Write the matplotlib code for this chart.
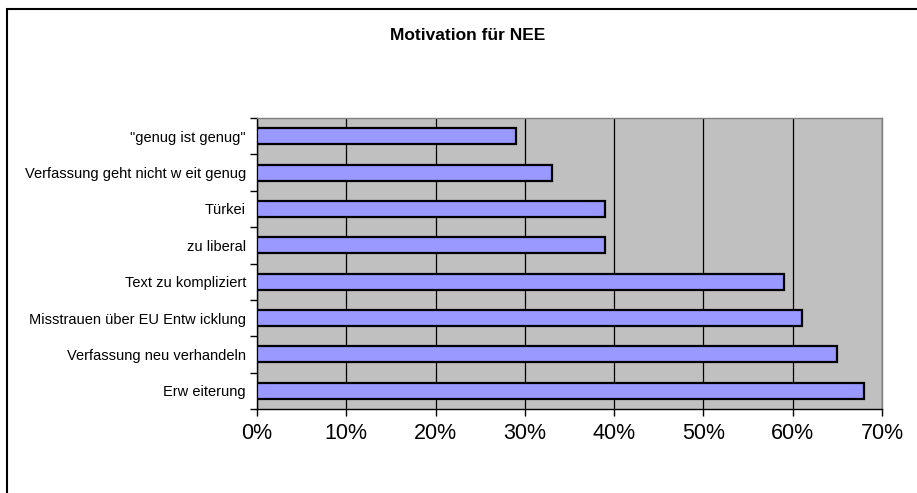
import matplotlib
matplotlib.use("Agg")
import matplotlib.pyplot as plt
from matplotlib.patches import Rectangle
from matplotlib.ticker import MultipleLocator, PercentFormatter, FixedLocator, NullFormatter
import numpy as np

categories = ['"genug ist genug"', 'Verfassung geht nicht w eit genug', 'Türkei', 'zu liberal',
              'Text zu kompliziert', 'Misstrauen über EU Entw icklung',
              'Verfassung neu verhandeln', 'Erw eiterung']
values = [29, 33, 39, 39, 59, 61, 65, 68]
title = 'Motivation für NEE'

plt.rcParams['font.family'] = ['Liberation Sans', 'DejaVu Sans']

fig = plt.figure(figsize=(9.17, 4.93), dpi=100)
W, H = 917, 493
ax = fig.add_axes([257 / W, (H - 409) / H, (882 - 257) / W, (409 - 118) / H])
ax.set_facecolor('#C0C0C0')

y = np.arange(len(categories))
ax.barh(y, values, height=0.44, color='#9999FF', edgecolor='black', linewidth=1.6, zorder=3)
ax.set_ylim(len(categories) - 0.5, -0.5)
ax.set_xlim(0, 70)

ax.xaxis.set_major_locator(MultipleLocator(10))
ax.xaxis.set_major_formatter(PercentFormatter(decimals=0))
ax.grid(axis='x', color='black', linewidth=0.9, zorder=1)

ax.set_yticks(y)
ax.set_yticklabels(categories, fontsize=10.5)
ax.tick_params(axis='y', which='major', length=0, pad=8)
ax.yaxis.set_minor_locator(FixedLocator(np.arange(-0.5, len(categories), 1.0)))
ax.yaxis.set_minor_formatter(NullFormatter())
ax.tick_params(axis='y', which='minor', length=5, width=1, direction='out', color='black')
ax.tick_params(axis='x', labelsize=15.5, length=5, width=1, direction='out', pad=5)

for s in ['left', 'bottom']:
    ax.spines[s].set_color('black')
    ax.spines[s].set_linewidth(1.0)
for s in ['top', 'right']:
    ax.spines[s].set_color('#808080')
    ax.spines[s].set_linewidth(1.0)

fig.text(468 / W, 1 - 35 / H, title, ha='center', va='center', fontsize=12.5, fontweight='bold')

fig.patches.append(Rectangle((6.5 / W, -0.1), 2.0, 1.1 - 9.5 / H, transform=fig.transFigure,
                             fill=False, edgecolor='black', linewidth=1.5, figure=fig))

fig.savefig('out.png', dpi=100)
